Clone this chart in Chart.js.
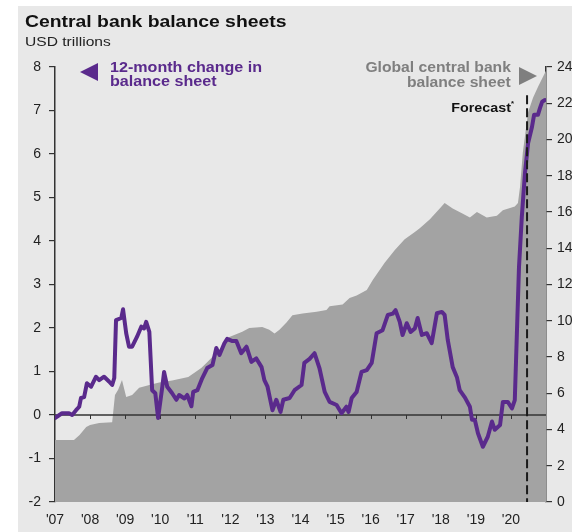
<!DOCTYPE html>
<html>
<head>
<meta charset="utf-8">
<script src="https://cdn.jsdelivr.net/npm/chart.js@4.4.1/dist/chart.umd.min.js"></script>
<style>
  html, body { margin:0; padding:0; background:#ffffff; }
  body { width:572px; height:532px; position:relative; overflow:hidden; font-family:"Liberation Sans", Arial, sans-serif; }
  #bg { position:absolute; left:18px; top:6px; width:554px; height:526px; background:#e8e8e8; }
  #c { position:absolute; left:0; top:0; }
  .t { position:absolute; white-space:nowrap; line-height:1; transform-origin:left top; }
  .r { transform-origin:right top; text-align:right; }
  .tri { position:absolute; width:0; height:0; }
</style>
</head>
<body>
<div id="bg"></div>
<canvas id="c" width="572" height="532"></canvas>
<div class="t" style="left:25px;top:14px;font-size:16px;font-weight:bold;color:#111;transform:scaleX(1.21);">Central bank balance sheets</div>
<div class="t" style="left:25px;top:36px;font-size:12px;color:#222;transform:scaleX(1.3);">USD trillions</div>
<div class="tri" style="left:80px;top:63px;border-top:9px solid transparent;border-bottom:9px solid transparent;border-right:18px solid #5a2a8c;"></div>
<div class="t" style="left:110px;top:60px;font-size:14px;font-weight:bold;color:#5a2a8c;transform:scaleX(1.15);">12-month change in</div>
<div class="t" style="left:110px;top:74px;font-size:14px;font-weight:bold;color:#5a2a8c;transform:scaleX(1.15);">balance sheet</div>
<div class="t r" style="right:61px;top:60px;font-size:14px;font-weight:bold;color:#7f7f7f;transform:scaleX(1.12);">Global central bank</div>
<div class="t r" style="right:61px;top:75px;font-size:14px;font-weight:bold;color:#7f7f7f;transform:scaleX(1.12);">balance sheet</div>
<div class="tri" style="left:519px;top:67px;border-top:9px solid transparent;border-bottom:9px solid transparent;border-left:18px solid #7f7f7f;"></div>
<div class="t r" style="right:58px;top:100px;font-size:13px;font-weight:bold;color:#111;transform:scaleX(1.1);">Forecast<sup style="font-size:7px;vertical-align:6px;">*</sup></div>
<script>
// ---- data ----
const xTickLabels = ["'07","'08","'09","'10","'11","'12","'13","'14","'15","'16","'17","'18","'19","'20"];
const firstYear = 2007;
const lastYear = 2021;
const forecastStart = 2020.46;

// 12-month change in balance sheet (left axis, USD trillions)
const lineDates = [2007.00,2007.20,2007.40,2007.49,2007.60,2007.69,2007.74,2007.83,2007.91,2008.03,2008.17,2008.26,2008.40,2008.54,2008.63,2008.69,2008.74,2008.89,2008.94,2009.03,2009.11,2009.20,2009.34,2009.46,2009.54,2009.60,2009.69,2009.77,2009.86,2009.94,2010.06,2010.11,2010.20,2010.34,2010.46,2010.54,2010.69,2010.77,2010.89,2010.94,2011.06,2011.20,2011.34,2011.49,2011.60,2011.69,2011.83,2011.91,2012.06,2012.17,2012.31,2012.46,2012.60,2012.74,2012.89,2012.97,2013.06,2013.20,2013.31,2013.43,2013.51,2013.69,2013.83,2014.03,2014.11,2014.26,2014.40,2014.54,2014.69,2014.83,2015.03,2015.17,2015.31,2015.37,2015.46,2015.60,2015.74,2015.89,2016.03,2016.17,2016.34,2016.49,2016.63,2016.71,2016.83,2016.91,2017.03,2017.14,2017.26,2017.34,2017.46,2017.60,2017.74,2017.89,2018.03,2018.11,2018.20,2018.34,2018.46,2018.54,2018.69,2018.83,2018.89,2018.97,2019.06,2019.20,2019.34,2019.46,2019.54,2019.69,2019.77,2019.91,2020.03,2020.11,2020.17,2020.23,2020.31,2020.40,2020.49,2020.60,2020.66,2020.77,2020.83,2020.89,2020.97];
const lineValues = [-0.07,0.04,0.04,0.00,0.11,0.19,0.39,0.41,0.73,0.65,0.88,0.80,0.88,0.77,0.69,0.85,2.18,2.23,2.43,1.88,1.57,1.57,1.80,2.03,1.99,2.14,1.91,0.57,0.50,-0.07,0.65,0.99,0.65,0.50,0.35,0.46,0.38,0.46,0.20,0.53,0.57,0.85,1.08,1.15,1.54,1.38,1.65,1.75,1.70,1.70,1.42,1.57,1.22,1.30,1.10,0.80,0.65,0.11,0.35,0.07,0.35,0.39,0.57,0.69,1.20,1.29,1.42,1.08,0.53,0.30,0.23,0.04,0.19,0.07,0.39,0.53,0.99,1.03,1.20,1.88,1.95,2.30,2.33,2.41,2.14,1.84,2.11,1.91,1.99,2.23,1.84,1.88,1.65,2.34,2.37,2.30,1.72,1.10,0.87,0.57,0.40,0.19,-0.11,-0.11,-0.42,-0.73,-0.50,-0.15,-0.34,-0.23,0.30,0.30,0.15,0.34,1.88,3.40,4.55,5.56,6.25,6.62,6.90,6.90,7.06,7.20,7.24];

// Global central bank balance sheet (right axis, USD trillions)
const areaDates = [2007.00,2007.54,2007.70,2007.89,2008.00,2008.26,2008.63,2008.71,2008.80,2008.91,2009.03,2009.20,2009.40,2009.69,2009.97,2010.34,2010.80,2011.17,2011.31,2011.89,2011.97,2012.34,2012.54,2012.91,2013.11,2013.26,2013.40,2013.60,2013.77,2014.06,2014.46,2014.74,2014.83,2015.20,2015.40,2015.60,2015.89,2016.06,2016.40,2016.69,2016.97,2017.26,2017.40,2017.69,2017.97,2018.11,2018.34,2018.63,2018.83,2019.03,2019.31,2019.60,2019.77,2020.11,2020.20,2020.26,2020.34,2020.49,2020.63,2020.77,2021.00];
const areaValues = [3.42,3.42,3.70,4.14,4.25,4.36,4.40,5.90,6.20,6.73,5.80,5.90,6.30,6.45,6.60,6.70,6.90,7.40,7.65,8.80,9.10,9.40,9.60,9.65,9.50,9.30,9.50,9.90,10.30,10.40,10.50,10.60,10.80,10.90,11.25,11.40,11.70,12.25,13.20,13.90,14.50,14.90,15.10,15.60,16.20,16.50,16.20,15.90,15.70,16.00,15.70,15.80,16.10,16.30,16.50,17.40,19.30,21.50,22.30,22.90,23.80];

const PURPLE = '#5a2a8c';
const AREA = '#a3a3a3';
const AXIS = '#333333';
const TICKFONT = { family: '"Liberation Sans", Arial, sans-serif', size: 14 };

const lineData = lineDates.map((d, i) => ({ x: d, y: lineValues[i] }));
const areaData = areaDates.map((d, i) => ({ x: d, y: areaValues[i] }));

const zeroLinePlugin = {
  id: 'zeroLine',
  afterDatasetDraw(chart, args) {
    if (args.index !== 1) return;
    const { ctx, chartArea, scales } = chart;
    const y0 = scales.y.getPixelForValue(0);
    ctx.save();
    ctx.strokeStyle = '#333333';
    ctx.lineWidth = 1.6;
    ctx.beginPath();
    ctx.moveTo(chartArea.left, y0);
    ctx.lineTo(chartArea.right, y0);
    ctx.stroke();
    ctx.lineWidth = 1;
    for (let yr = firstYear + 1; yr < lastYear; yr++) {
      const x = Math.round(scales.x.getPixelForValue(yr)) + 0.5;
      ctx.beginPath();
      ctx.moveTo(x, y0);
      ctx.lineTo(x, y0 + 4);
      ctx.stroke();
    }
    ctx.restore();
  }
};

const forecastPlugin = {
  id: 'forecast',
  afterDatasetsDraw(chart) {
    const { ctx, chartArea, scales } = chart;
    const x = scales.x.getPixelForValue(forecastStart);
    ctx.save();
    ctx.strokeStyle = '#1a1a1a';
    ctx.lineWidth = 2;
    ctx.setLineDash([9, 4]);
    ctx.beginPath();
    ctx.moveTo(x, scales.y.getPixelForValue(7.35));
    ctx.lineTo(x, chartArea.bottom);
    ctx.stroke();
    ctx.restore();
  }
};

new Chart(document.getElementById('c'), {
  type: 'line',
  data: {
    datasets: [
      { label: '12-month change in balance sheet', data: lineData, yAxisID: 'y', borderColor: PURPLE, borderWidth: 4, pointRadius: 0, fill: false, tension: 0, borderJoinStyle: 'round', borderCapStyle: 'round' },
      { label: 'Global central bank balance sheet', data: areaData, yAxisID: 'y2', borderWidth: 0, borderColor: AREA, backgroundColor: AREA, fill: 'origin', pointRadius: 0, tension: 0 }
    ]
  },
  options: {
    responsive: false,
    animation: false,
    layout: { padding: { top: 67, left: 0, right: 0, bottom: 0 } },
    plugins: { legend: { display: false }, tooltip: { enabled: false } },
    scales: {
      x: {
        type: 'linear', min: firstYear, max: lastYear,
        ticks: { stepSize: 1, autoSkip: false, maxRotation: 0, minRotation: 0, padding: 10, color: '#222', font: TICKFONT,
          callback: (v) => { const i = Math.round(v) - firstYear; return xTickLabels[i] !== undefined ? xTickLabels[i] : ''; } },
        grid: { display: false, drawTicks: false },
        border: { display: false },
        afterFit: (s) => { s.height = 30; }
      },
      y: {
        position: 'left', min: -2, max: 8,
        ticks: { stepSize: 1, padding: 8, color: '#222', font: TICKFONT },
        grid: { drawOnChartArea: false, drawTicks: true, tickLength: 6, color: AXIS, lineWidth: 1.2 },
        border: { display: true, color: AXIS, width: 1.5 },
        afterFit: (s) => { s.width = 55; }
      },
      y2: {
        position: 'right', min: 0, max: 24,
        ticks: { stepSize: 2, padding: 5, color: '#222', font: TICKFONT },
        grid: { drawOnChartArea: false, drawTicks: true, tickLength: 6, color: AXIS, lineWidth: 1.2 },
        border: { display: true, color: AXIS, width: 1.5 },
        afterFit: (s) => { s.width = 26; }
      }
    }
  },
  plugins: [zeroLinePlugin, forecastPlugin]
});
</script>
</body>
</html>
